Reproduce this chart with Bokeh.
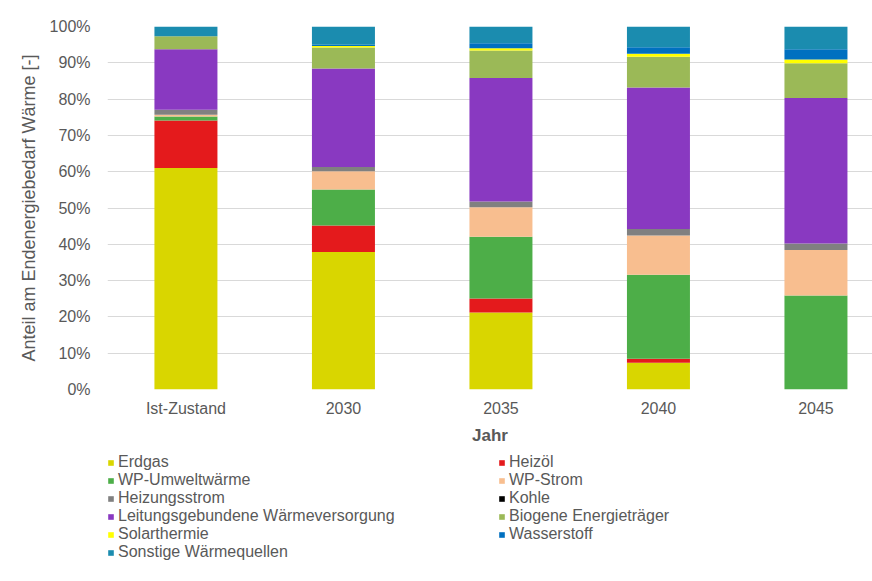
from bokeh.plotting import figure
from bokeh.layouts import column
from bokeh.models import ColumnDataSource, FixedTicker, PrintfTickFormatter, Legend, LegendItem
from bokeh.embed import file_html
from bokeh.resources import INLINE

# ---- data (percent share) ----
categories = ["Ist-Zustand", "2030", "2035", "2040", "2045"]
erdgas        = [61.0, 37.9, 21.2, 7.4, 0.0]
heizoel       = [13.1, 7.3, 3.9, 1.1, 0.0]
wp_umwelt     = [1.1, 9.9, 17.0, 23.1, 25.9]
wp_strom      = [0.5, 5.0, 8.1, 10.8, 12.5]
heizungsstrom = [1.4, 1.2, 1.6, 1.8, 1.8]
kohle         = [0.0, 0.0, 0.0, 0.0, 0.0]
leitung       = [16.6, 27.1, 34.0, 39.0, 40.1]
biogen        = [3.6, 5.8, 7.6, 8.5, 9.6]
solar         = [0.0, 0.4, 0.6, 0.8, 1.0]
wasserstoff   = [0.0, 0.4, 1.4, 1.8, 2.8]
sonstige      = [2.7, 5.0, 4.6, 5.7, 6.3]

series_names = ["Erdgas", "Heizöl", "WP-Umweltwärme", "WP-Strom", "Heizungsstrom",
                "Kohle", "Leitungsgebundene Wärmeversorgung", "Biogene Energieträger",
                "Solarthermie", "Wasserstoff", "Sonstige Wärmequellen"]
series_values = [erdgas, heizoel, wp_umwelt, wp_strom, heizungsstrom, kohle,
                 leitung, biogen, solar, wasserstoff, sonstige]
colors = ["#D9D600", "#E41A1C", "#4DAE48", "#F8BE8F", "#808080", "#000000",
          "#8939C1", "#9BB957", "#FFFF00", "#0070C0", "#1B8CAF"]
y_ticks = [0, 10, 20, 30, 40, 50, 60, 70, 80, 90, 100]

FONT = "Liberation Sans"
GREY = "#595959"

data = {"x": list(range(len(categories)))}
keys = []
for i, vals in enumerate(series_values):
    k = f"s{i}"
    keys.append(k)
    data[k] = vals
source = ColumnDataSource(data)

# ---------------- main chart ----------------
p = figure(width=872, height=450, x_range=(-0.498, 4.359), y_range=(0, 100),
           output_backend="svg", toolbar_location=None,
           min_border_left=107, min_border_right=0, min_border_top=26, min_border_bottom=61)
p.outline_line_color = None

renderers = p.vbar_stack(keys, x="x", width=0.4, color=colors, line_color=None, source=source)

p.xgrid.visible = False
p.ygrid.grid_line_color = "#D9D9D9"
p.ygrid.grid_line_width = 1

p.yaxis.ticker = FixedTicker(ticks=y_ticks)
p.yaxis.formatter = PrintfTickFormatter(format="%d%%")
p.yaxis.axis_line_color = None
p.yaxis.major_tick_line_color = None
p.yaxis.minor_tick_line_color = None
p.yaxis.major_tick_out = 0
p.yaxis.major_label_standoff = 17
p.yaxis.major_label_text_font = FONT
p.yaxis.major_label_text_font_size = "16px"
p.yaxis.major_label_text_color = GREY
p.yaxis.axis_label = "Anteil am Endenergiebedarf Wärme [-]"
p.yaxis.axis_label_text_font = FONT
p.yaxis.axis_label_text_font_size = "18px"
p.yaxis.axis_label_text_font_style = "normal"
p.yaxis.axis_label_text_color = GREY
p.yaxis.axis_label_standoff = 8

p.xaxis.ticker = FixedTicker(ticks=list(range(len(categories))))
p.xaxis.major_label_overrides = {i: c for i, c in enumerate(categories)}
p.xaxis.axis_line_color = None
p.xaxis.major_tick_line_color = None
p.xaxis.minor_tick_line_color = None
p.xaxis.major_tick_out = 0
p.xaxis.major_label_standoff = 10
p.xaxis.major_label_text_font = FONT
p.xaxis.major_label_text_font_size = "16px"
p.xaxis.major_label_text_color = GREY
p.xaxis.axis_label = "Jahr"
p.xaxis.axis_label_text_font = FONT
p.xaxis.axis_label_text_font_size = "17px"
p.xaxis.axis_label_text_font_style = "bold"
p.xaxis.axis_label_text_color = GREY
p.xaxis.axis_label_standoff = 6

# ---------------- legend strip ----------------
LH = 131
q = figure(width=872, height=LH, x_range=(0, 1), y_range=(0, 1),
           x_axis_type=None, y_axis_type=None, output_backend="svg", toolbar_location=None,
           min_border_left=107, min_border_right=0, min_border_top=0, min_border_bottom=0)
q.outline_line_color = None
q.xgrid.visible = False
q.ygrid.visible = False

# invisible (zero-height, off-range) stand-ins that only carry the legend swatch colours
dummy = [q.vbar(x=[-1], top=[0], width=0.1, color=c, line_color=None) for c in colors]
items = [LegendItem(label=n, renderers=[r]) for n, r in zip(series_names, dummy)]
left_items = items[0::2]
right_items = items[1::2]

ROW = 18
TOP = 3

def make_legend(its, x):
    h = ROW * len(its)
    return Legend(items=its, location=(x, LH - TOP - h), orientation="vertical",
                  glyph_width=7, glyph_height=7, label_standoff=4,
                  label_height=ROW, spacing=0, padding=0, margin=0,
                  border_line_color=None, background_fill_alpha=0,
                  label_text_font=FONT, label_text_font_size="16px",
                  label_text_color=GREY)

q.add_layout(make_legend(left_items, 0))
q.add_layout(make_legend(right_items, 391))

layout = column(p, q, spacing=0)
open("out.html", "w").write(file_html(layout, INLINE))
